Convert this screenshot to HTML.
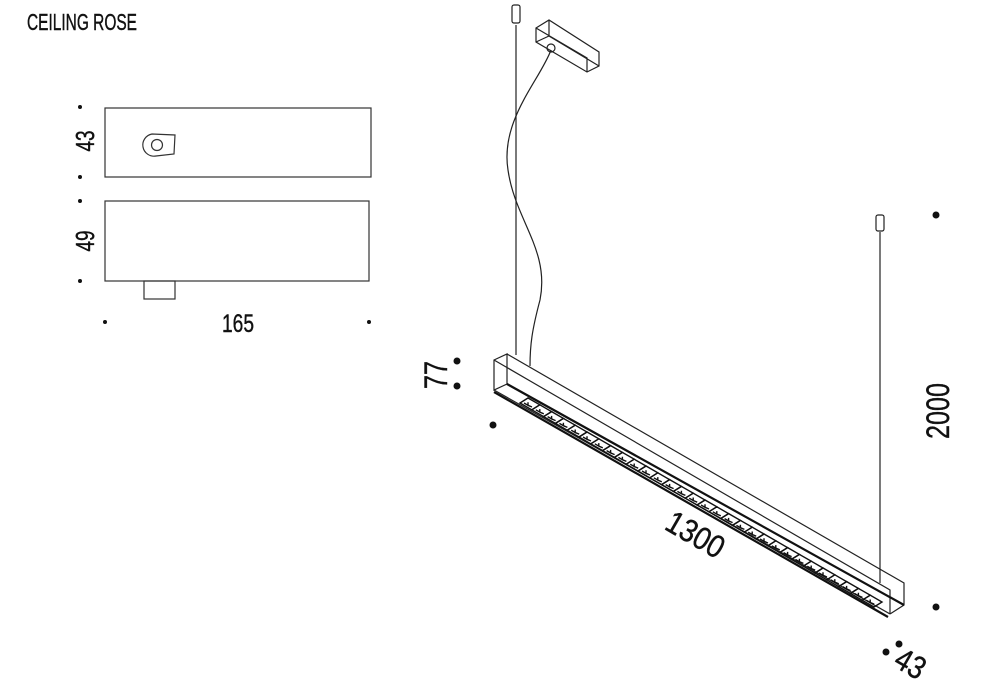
<!DOCTYPE html>
<html><head><style>
html,body{margin:0;padding:0;background:#fff;}
svg{display:block}
text{font-family:"Liberation Sans",sans-serif;fill:#111;stroke:#111;stroke-width:0.4}
</style></head><body>
<svg width="1000" height="700" viewBox="0 0 1000 700" xmlns="http://www.w3.org/2000/svg">
<defs>
<g id="c" fill="none" stroke="#111" stroke-width="1.4">
<path d="M0,0 l11.8,6.8 l8,-5 l-11.8,-6.8 z M4,0 l4,2.3 l0,-3 M12,4 l-4,-1.7"/>
</g>
<g id="c5">
<use href="#c"/><use href="#c" x="11.8" y="6.8"/><use href="#c" x="23.6" y="13.6"/><use href="#c" x="35.4" y="20.4"/><use href="#c" x="47.2" y="27.2"/>
</g>
</defs>
<text x="27" y="30" font-size="23" textLength="110" lengthAdjust="spacingAndGlyphs">CEILING ROSE</text>
<g fill="none" stroke="#333" stroke-width="1.2">
<rect x="105" y="108" width="266" height="69"/>
<rect x="105" y="201" width="264" height="80"/>
<rect x="144" y="281" width="31" height="18"/>
<path d="M152,134 L175,135 L174,154 L156,156 A11,11 0 0 1 152,134Z"/>
<circle cx="157" cy="145" r="5.5"/>
</g>
<g fill="#111">
<circle cx="80" cy="107" r="2"/><circle cx="80" cy="177" r="2"/>
<circle cx="80" cy="201" r="2"/><circle cx="80" cy="281" r="2"/>
<circle cx="105" cy="322" r="2"/><circle cx="369" cy="322" r="2"/>
<circle cx="457" cy="361" r="3.5"/><circle cx="457" cy="386" r="3.5"/>
<circle cx="493" cy="425" r="3.5"/>
<circle cx="936" cy="215" r="3.5"/><circle cx="936" cy="607" r="3.5"/>
<circle cx="886" cy="652" r="3.5"/><circle cx="899" cy="644" r="3.5"/>
</g>
<text x="94" y="141" font-size="26" textLength="21" lengthAdjust="spacingAndGlyphs" transform="rotate(-90 94 141)" text-anchor="middle">43</text>
<text x="94" y="241" font-size="26" textLength="21" lengthAdjust="spacingAndGlyphs" transform="rotate(-90 94 241)" text-anchor="middle">49</text>
<text x="238" y="332" font-size="25" textLength="32" lengthAdjust="spacingAndGlyphs" text-anchor="middle">165</text>
<text x="447" y="375" font-size="32" textLength="28" lengthAdjust="spacingAndGlyphs" transform="rotate(-90 447 375)" text-anchor="middle">77</text>
<text x="949" y="411" font-size="32" textLength="56" lengthAdjust="spacingAndGlyphs" transform="rotate(-90 949 411)" text-anchor="middle">2000</text>
<text x="690" y="544" font-size="32" textLength="62" lengthAdjust="spacingAndGlyphs" transform="rotate(30 690 544)" text-anchor="middle">1300</text>
<text x="905" y="673" font-size="32" textLength="30" lengthAdjust="spacingAndGlyphs" transform="rotate(30 905 673)" text-anchor="middle">43</text>
<g fill="none" stroke="#222" stroke-width="1.2">
<line x1="516" y1="25" x2="516" y2="355"/>
<rect x="512" y="5" width="8" height="18" rx="2"/>
<line x1="880" y1="232" x2="880" y2="583"/>
<rect x="876" y="215" width="8" height="16" rx="2"/>
<path d="M551,50 C540,80 500,120 508,170 C515,220 550,250 540,300 C532,330 530,345 530,366"/>
<path d="M536,28 L549,20 L599,52 L599,66 L587,72 L536,42 Z M549,20 L549,36 L599,66 M536,28 L587,58 L587,72 M549,36 L536,42"/>
<circle cx="551" cy="48" r="4"/>
<path d="M494,360 L507,354 L507,384 L494,390 Z"/>
<path d="M507,354 L904,583 L904,605 L890,614"/>
<path d="M494,360 L890,590 L890,614"/>
<path d="M494,390 L890,614"/>
</g>
<g fill="none" stroke="#111" stroke-width="2.2"><path d="M494,392 L888,617"/><path d="M507,384 L904,605"/></g>
<g transform="translate(520,403)">
<use href="#c5"/><use href="#c5" x="59" y="34"/><use href="#c5" x="118" y="68"/><use href="#c5" x="177" y="102"/><use href="#c5" x="236" y="136"/><use href="#c5" x="295" y="170"/>
</g>
</svg>
</body></html>
